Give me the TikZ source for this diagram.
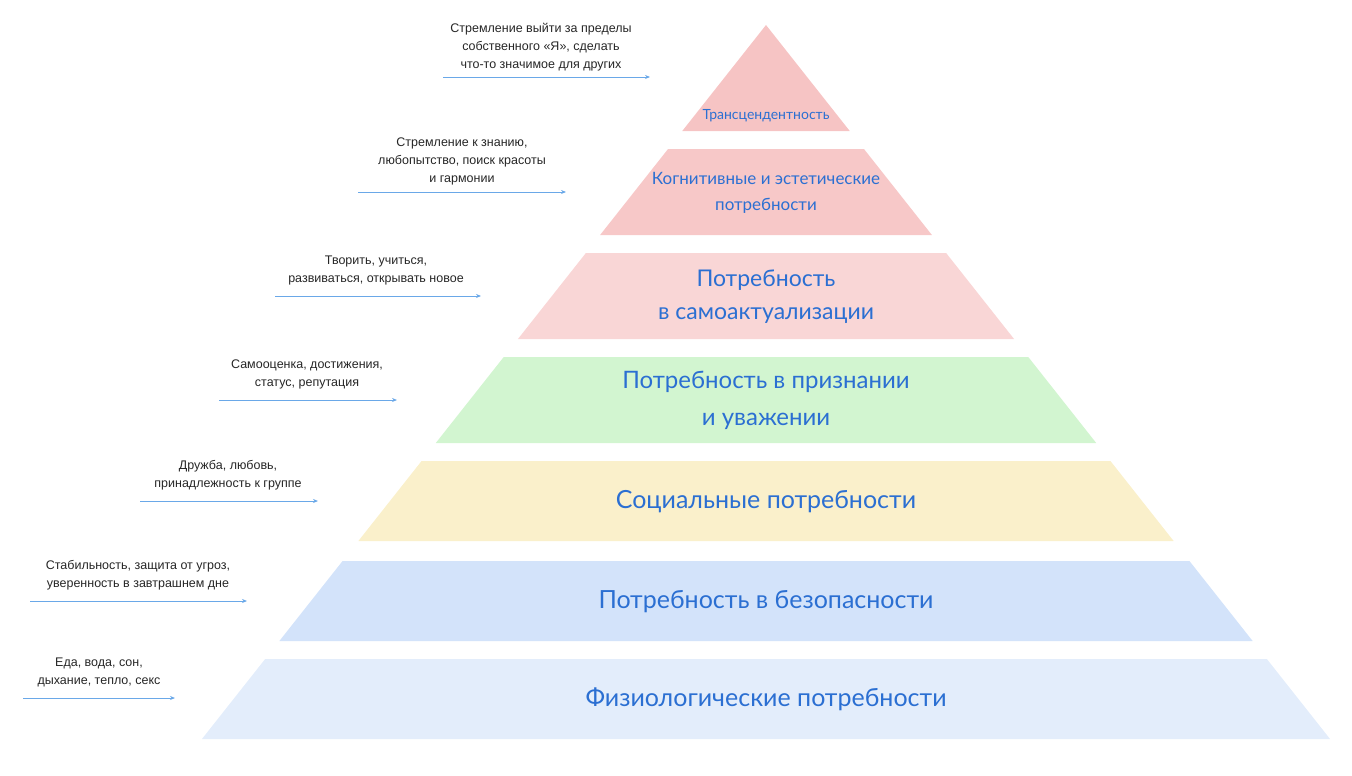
\documentclass[tikz,border=0pt]{standalone}
\usepackage{fontspec}
\setmainfont{Lato}
\newfontfamily\notefont{Liberation Sans}
\definecolor{pinkA}{HTML}{F6C4C4}
\definecolor{pinkB}{HTML}{F7C8C8}
\definecolor{pinkC}{HTML}{F9D6D6}
\definecolor{greenL}{HTML}{D2F5D0}
\definecolor{yellowL}{HTML}{FAF0CB}
\definecolor{blueA}{HTML}{D3E3FA}
\definecolor{blueB}{HTML}{E3EDFB}
\definecolor{txtblue}{HTML}{2B6FD2}
\definecolor{arr}{HTML}{6AA8E8}
\usetikzlibrary{arrows.meta}
\begin{document}
\begin{tikzpicture}[x=1pt,y=-1pt,
  note/.style={font=\notefont\fontsize{12.5}{18}\selectfont,align=center,text=black!85},
  lbl/.style={text=txtblue,align=center},
  pointer/.style={draw=arr,line width=0.9pt,-{Stealth[length=5pt,width=4pt]}}]
\useasboundingbox (0,0) rectangle (1352,776);
\def\slope{0.79}
\newcommand{\layer}[3]{% top y, bottom y, color
  \fill[#3] ({766-\slope*(#1-25)},#1) -- ({766+\slope*(#1-25)},#1) -- ({766+\slope*(#2-25)},#2) -- ({766-\slope*(#2-25)},#2) -- cycle;}
\fill[pinkA] (766,25) -- ({766+\slope*106},131) -- ({766-\slope*106},131) -- cycle;
\layer{149}{235}{pinkB}
\layer{253}{339}{pinkC}
\layer{357}{443}{greenL}
\layer{461}{541}{yellowL}
\layer{561}{641}{blueA}
\layer{659}{739}{blueB}
\node[lbl,font=\fontsize{14}{17}\selectfont] (l1) at (766,116) {Трансцендентность};
\node[lbl,font=\fontsize{17}{26}\selectfont] (l2) at (766,193) {Когнитивные и эстетические\\потребности};
\node[lbl,font=\fontsize{23}{33}\selectfont] (l3) at (766,297) {Потребность\\в самоактуализации};
\node[lbl,font=\fontsize{24}{37}\selectfont] (l4) at (766,400) {Потребность в признании\\и уважении};
\node[lbl,font=\fontsize{25}{30}\selectfont] (l5) at (766,502) {Социальные потребности};
\node[lbl,font=\fontsize{25}{30}\selectfont] (l6) at (766,602) {Потребность в безопасности};
\node[lbl,font=\fontsize{25}{30}\selectfont] (l7) at (766,699) {Физиологические потребности};
\node[note] (n1) at (541,47) {Стремление выйти за пределы\\собственного «Я», сделать\\что-то значимое для других};
\node[note] (n2) at (462,161) {Стремление к знанию,\\любопытство, поиск красоты\\и гармонии};
\node[note] (n3) at (376,270) {Творить, учиться,\\развиваться, открывать новое};
\node[note] (n4) at (307,374) {Самооценка, достижения,\\статус, репутация};
\node[note] (n5) at (228,475) {Дружба, любовь,\\принадлежность к группе};
\node[note] (n6) at (138,575) {Стабильность, защита от угроз,\\уверенность в завтрашнем дне};
\node[note] (n7) at (99,672) {Еда, вода, сон,\\дыхание, тепло, секс};
\coordinate (a1s) at (443,77); \coordinate (a1e) at (650,77);
\coordinate (a2s) at (358,192); \coordinate (a2e) at (566,192);
\coordinate (a3s) at (275,296); \coordinate (a3e) at (481,296);
\coordinate (a4s) at (219,400); \coordinate (a4e) at (397,400);
\coordinate (a5s) at (140,501); \coordinate (a5e) at (318,501);
\coordinate (a6s) at (30,601); \coordinate (a6e) at (247,601);
\coordinate (a7s) at (23,698); \coordinate (a7e) at (175,698);
\foreach \i in {1,...,7}{\draw[pointer] (a\i s) -- (a\i e);}
\end{tikzpicture}
\end{document}
